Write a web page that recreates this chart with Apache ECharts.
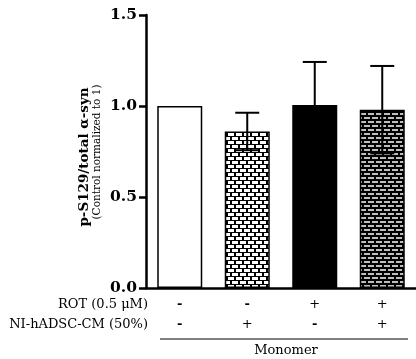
<!DOCTYPE html>
<html>
<head>
<meta charset="utf-8">
<script src="https://cdn.jsdelivr.net/npm/echarts@6/dist/echarts.min.js"></script>
<style>
html,body{margin:0;padding:0;background:#fff;}
#chart{width:416px;height:359px;}
</style>
</head>
<body>
<div id="chart"></div>
<script>
// ---- data ----
const categories = ['Control', 'CM', 'ROT', 'ROT+CM'];
const rotSigns = ['-', '-', '+', '+'];
const cmSigns = ['-', '+', '-', '+'];
const means = [1.0, 0.86, 1.005, 0.98];
const sems = [0, 0.103, 0.237, 0.24];
const yTicks = [0, 0.5, 1.0, 1.5];
const rowLabels = ['ROT (0.5 \u03bcM)', 'NI-hADSC-CM (50%)'];
const groupLabel = 'Monomer';
const yTitle = 'p-S129/total \u03b1-syn';
const ySubTitle = '(Control normalized to 1)';

// ---- brick patterns ----
function brick(brickColor, mortar, bh, gap) {
  const c = document.createElement('canvas');
  c.width = 8; c.height = 8;
  const g = c.getContext('2d');
  g.fillStyle = mortar; g.fillRect(0, 0, 8, 8);
  g.fillStyle = brickColor;
  g.fillRect(0, 1, 8 - gap, bh);
  g.fillRect(4, 5, 8 - gap, bh);
  g.fillRect(-4, 5, 8 - gap, bh);
  return c;
}
const lightBrick = brick('#ffffff', '#000000', 3, 2);
const darkBrick = brick('#bdbdbd', '#000000', 2, 2);

const fills = ['#ffffff', {image: lightBrick, repeat: 'repeat'}, '#000000', {image: darkBrick, repeat: 'repeat'}];

const chart = echarts.init(document.getElementById('chart'), null, {renderer: 'canvas'});
const serif = 'DejaVu Serif';

function sign(s) { return s === '-' ? '{d|-}' : '{p|+}'; }

const option = {
  animation: false,
  backgroundColor: '#ffffff',
  grid: {left: 146, top: 15, width: 272, height: 273, containLabel: false},
  xAxis: {
    type: 'category',
    data: categories,
    axisLine: {show: true, lineStyle: {color: '#000', width: 2.5}},
    axisTick: {show: false},
    axisLabel: {
      interval: 0,
      margin: 7,
      formatter: function (v, i) { return sign(rotSigns[i]) + '\n' + sign(cmSigns[i]); },
      fontFamily: serif, fontSize: 13, lineHeight: 20, color: '#000',
      rich: {
        d: {fontFamily: serif, fontWeight: 'bold', fontSize: 13, lineHeight: 20, color: '#000'},
        p: {fontFamily: serif, fontSize: 13, lineHeight: 20, color: '#000'}
      }
    }
  },
  yAxis: {
    type: 'value',
    min: 0, max: 1.5, interval: 0.5,
    axisLine: {show: true, lineStyle: {color: '#000', width: 2.5}},
    axisTick: {show: true, length: 7, lineStyle: {color: '#000', width: 2.5}},
    splitLine: {show: false},
    axisLabel: {
      margin: 9,
      formatter: function (v) { return v.toFixed(1); },
      fontFamily: serif, fontWeight: 'bold', fontSize: 15.5, color: '#000'
    }
  },
  series: [
    {
      type: 'bar',
      barWidth: 45,
      data: means.map(function (v, i) {
        return {value: v, itemStyle: {color: fills[i], borderColor: '#000', borderWidth: 1.5}};
      }),
      z: 2
    },
    {
      type: 'custom',
      z: 5,
      data: means.map(function (v, i) { return [i, v, sems[i]]; }),
      renderItem: function (params, api) {
        const i = api.value(0), m = api.value(1), s = api.value(2);
        if (!s) return null;
        const top = api.coord([i, m + s]);
        const bot = api.coord([i, m - s]);
        const hw = 12;
        const st = {stroke: '#000', lineWidth: 2};
        return {
          type: 'group',
          children: [
            {type: 'line', shape: {x1: top[0], y1: top[1], x2: bot[0], y2: bot[1]}, style: st},
            {type: 'line', shape: {x1: top[0] - hw, y1: top[1], x2: top[0] + hw, y2: top[1]}, style: st},
            {type: 'line', shape: {x1: bot[0] - hw, y1: bot[1], x2: bot[0] + hw, y2: bot[1]}, style: st}
          ]
        };
      }
    }
  ],
  graphic: [
    {type: 'text', x: 148, y: 305, style: {text: rowLabels[0], fontFamily: serif, fontSize: 13, fill: '#000', align: 'right', verticalAlign: 'middle'}},
    {type: 'text', x: 148, y: 325, style: {text: rowLabels[1], fontFamily: serif, fontSize: 13, fill: '#000', align: 'right', verticalAlign: 'middle'}},
    {type: 'line', shape: {x1: 160, y1: 339, x2: 408, y2: 339}, style: {stroke: '#000', lineWidth: 1.2}},
    {type: 'text', x: 286, y: 351, style: {text: groupLabel, fontFamily: serif, fontSize: 13, fill: '#000', align: 'center', verticalAlign: 'middle'}},
    {type: 'text', x: 84, y: 157, rotation: Math.PI / 2, style: {text: yTitle, fontFamily: serif, fontWeight: 'bold', fontSize: 13.5, fill: '#000', align: 'center', verticalAlign: 'middle'}},
    {type: 'text', x: 97.5, y: 152, rotation: Math.PI / 2, style: {text: ySubTitle, fontFamily: serif, fontSize: 10.5, fill: '#000', align: 'center', verticalAlign: 'middle'}}
  ]
};
chart.setOption(option);
</script>
</body>
</html>
